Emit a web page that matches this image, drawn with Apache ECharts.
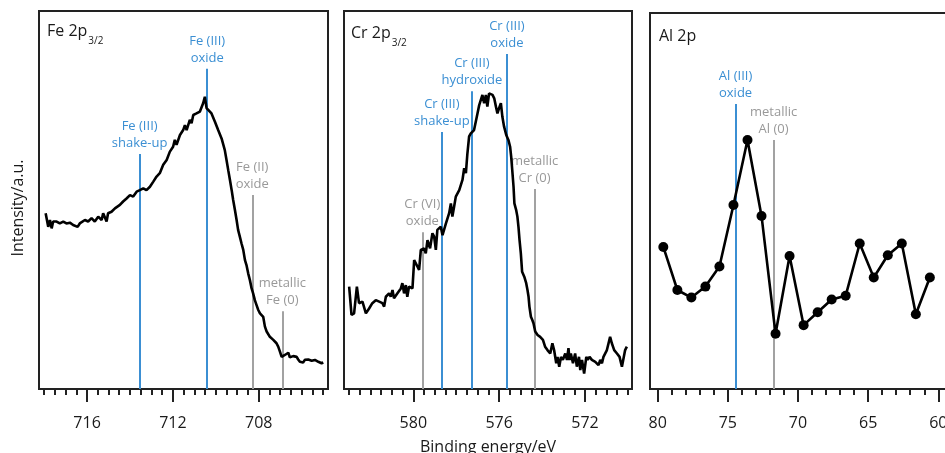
<!DOCTYPE html>
<html>
<head>
<meta charset="utf-8">
<script src="https://cdn.jsdelivr.net/npm/echarts@6/dist/echarts.min.js"></script>
<style>
  html, body { margin: 0; padding: 0; background: #fff; }
  #chart { width: 945px; height: 453px; }
</style>
</head>
<body>
<div id="chart"></div>
<script>
// binding energy (eV) / intensity (a.u.)
const feSpectrum = [
  [717.93,46.5],[717.81,42.9],[717.73,44.7],[717.65,42.5],[717.58,44.3],[717.50,43.8],[717.42,44.3],[717.27,43.8],
  [717.11,44.3],[716.96,43.8],[716.80,44.0],[716.65,43.4],[716.44,42.9],[716.34,43.8],[716.10,44.7],[715.95,44.3],
  [715.79,45.2],[715.64,44.3],[715.48,45.6],[715.32,44.7],[715.25,46.5],[715.09,44.3],[715.02,46.5],[714.86,46.9],
  [714.70,47.8],[714.47,48.7],[714.32,49.6],[714.16,50.4],[714.00,51.3],[713.85,50.9],[713.69,52.2],[713.54,52.6],
  [713.38,53.1],[713.23,52.6],[713.07,53.5],[712.92,54.8],[712.76,56.2],[712.61,57.1],[712.45,59.3],[712.29,60.6],
  [712.14,62.8],[711.99,64.1],[711.91,65.9],[711.83,64.6],[711.67,67.2],[711.52,68.5],[711.44,69.8],[711.36,68.5],
  [711.21,71.2],[711.13,70.3],[711.05,72.5],[710.90,72.9],[710.74,73.4],[710.59,75.6],[710.51,77.3],[710.43,74.3],
  [710.35,73.8],[710.20,72.9],[710.04,70.7],[709.89,68.5],[709.73,66.3],[709.58,63.2],[709.50,60.6],[709.42,57.9],
  [709.34,55.3],[709.26,52.6],[709.19,50.0],[709.11,47.4],[709.03,44.7],[708.96,42.1],[708.88,40.3],[708.80,38.5],
  [708.72,36.8],[708.64,34.1],[708.57,32.8],[708.49,30.6],[708.41,28.8],[708.33,26.6],[708.26,25.3],[708.18,23.5],
  [708.10,22.2],[708.02,20.9],[707.94,20.0],[707.87,19.6],[707.79,19.1],[707.71,16.5],[707.63,15.2],[707.48,13.8],
  [707.32,13.0],[707.17,12.1],[707.09,11.2],[707.01,9.9],[706.93,8.5],[706.78,9.0],[706.62,9.6],[706.55,8.4],
  [706.39,8.7],[706.23,8.5],[706.16,7.8],[706.08,7.2],[705.93,7.0],[705.85,7.7],[705.69,7.8],[705.53,7.5],
  [705.38,7.7],[705.22,7.2],[705.07,6.8],[704.99,7.0]
];

const crSpectrum = [
  [582.99,27.1],[582.88,19.6],[582.76,20.0],[582.63,27.1],[582.53,22.7],[582.37,23.1],[582.21,20.0],[582.06,21.3],
  [581.91,22.7],[581.75,23.5],[581.59,23.1],[581.44,22.7],[581.36,21.8],[581.28,24.4],[581.13,25.3],[581.05,24.4],
  [580.97,26.2],[580.90,24.0],[580.74,25.3],[580.58,26.6],[580.51,28.0],[580.43,25.3],[580.35,27.5],[580.28,24.4],
  [580.20,27.1],[580.04,26.6],[579.96,34.1],[579.81,32.4],[579.73,31.5],[579.65,36.8],[579.50,37.2],[579.42,35.9],
  [579.34,39.4],[579.22,37.2],[579.11,41.2],[579.03,40.3],[578.95,36.8],[578.88,42.1],[578.72,42.9],[578.64,40.7],
  [578.48,43.8],[578.33,46.5],[578.25,49.1],[578.18,45.6],[578.10,48.2],[578.02,50.9],[577.86,52.6],[577.71,55.3],
  [577.63,58.4],[577.55,57.1],[577.48,62.3],[577.40,66.8],[577.32,67.6],[577.24,68.1],[577.17,68.5],[577.01,72.9],
  [576.93,75.1],[576.85,75.6],[576.78,77.8],[576.70,75.6],[576.62,77.8],[576.55,74.7],[576.47,78.2],[576.31,77.8],
  [576.23,76.9],[576.15,74.7],[576.08,72.9],[575.98,74.7],[575.92,75.6],[575.85,72.0],[575.77,69.4],[575.67,67.2],
  [575.57,65.9],[575.49,64.1],[575.44,61.5],[575.39,57.9],[575.33,53.5],[575.29,49.1],[575.21,47.4],[575.15,45.6],
  [575.10,42.9],[575.05,39.4],[574.99,35.9],[574.93,31.0],[574.83,29.7],[574.74,28.0],[574.68,26.2],[574.63,24.4],
  [574.59,21.8],[574.52,19.1],[574.46,18.3],[574.40,17.4],[574.32,15.2],[574.21,14.3],[574.09,13.8],[573.96,13.0],
  [573.86,11.2],[573.75,10.3],[573.62,9.4],[573.52,12.1],[573.44,10.3],[573.34,6.8],[573.28,8.5],[573.20,5.9],
  [573.12,8.5],[573.03,7.7],[572.92,9.4],[572.84,7.7],[572.77,10.8],[572.72,7.7],[572.66,9.4],[572.56,6.8],
  [572.46,9.4],[572.38,5.9],[572.28,8.5],[572.22,5.0],[572.14,7.7],[572.04,4.1],[571.94,8.5],[571.88,7.7],
  [571.79,8.5],[571.68,7.7],[571.60,8.1],[571.52,7.2],[571.45,7.7],[571.37,6.3],[571.29,7.7],[571.21,6.8],
  [571.14,8.5],[570.98,10.3],[570.83,13.8],[570.75,12.1],[570.64,10.3],[570.51,9.4],[570.39,8.5],[570.28,5.9],
  [570.20,5.9],[570.13,10.3],[570.05,11.2]
];

const alSpectrum = [
  [79.6,37.6],[78.6,26.2],[77.6,24.2],[76.6,27.1],[75.6,32.4],[74.6,48.7],[73.6,65.9],[72.6,45.8],
  [71.6,14.6],[70.6,35.2],[69.6,16.9],[68.6,20.3],[67.6,23.7],[66.6,24.7],[65.6,38.5],[64.6,29.5],
  [63.6,35.4],[62.6,38.5],[61.6,19.8],[60.6,29.5]
];

// reference peak positions: label, energy, marker height, blue = oxidised species
const feRefs = [
  { name: 'Fe (III)\nshake-up', eV: 713.55, top: 62.2, blue: true },
  { name: 'Fe (III)\noxide', eV: 710.4, top: 84.7, blue: true },
  { name: 'Fe (II)\noxide', eV: 708.3, top: 51.3, blue: false },
  { name: 'metallic\nFe (0)', eV: 706.9, top: 20.6, blue: false }
];
const crRefs = [
  { name: 'Cr (VI)\noxide', eV: 579.58, top: 41.5, blue: false },
  { name: 'Cr (III)\nshake-up', eV: 578.67, top: 68.0, blue: true },
  { name: 'Cr (III)\nhydroxide', eV: 577.27, top: 78.8, blue: true },
  { name: 'Cr (III)\noxide', eV: 575.64, top: 88.6, blue: true },
  { name: 'metallic\nCr (0)', eV: 574.35, top: 52.9, blue: false }
];
const alRefs = [
  { name: 'Al (III)\noxide', eV: 74.45, top: 75.4, blue: true },
  { name: 'metallic\nAl (0)', eV: 71.74, top: 65.9, blue: false }
];

const feTickLabels = [716, 712, 708];
const crTickLabels = [580, 576, 572];
const alTickLabels = [80, 75, 70, 65, 60];

const FONT = '"Open Sans", "Noto Sans", sans-serif';
const INK = '#1a1a1a';
const BLUE = '#3b8fd3';
const GREY = '#a2a2a2';

const steps = (from, to, step) => {
  const out = [];
  for (let v = from; v <= to + 1e-9; v += step) out.push(+v.toFixed(3));
  return out;
};

const panels = [
  { title: 'Fe 2p', sub: '3/2', data: feSpectrum, refs: feRefs, min: 704.77, max: 718.24,
    major: feTickLabels, minor: steps(705, 718, 0.5), yMax: 100, symbols: false,
    grid: { left: 39, top: 11, width: 289, height: 378 }, titlePos: [47, 23] },
  { title: 'Cr 2p', sub: '3/2', data: crSpectrum, refs: crRefs, min: 569.81, max: 583.23,
    major: crTickLabels, minor: steps(570, 583, 0.5), yMax: 100, symbols: false,
    grid: { left: 344, top: 11, width: 288, height: 378 }, titlePos: [351, 25] },
  { title: 'Al 2p', sub: '', data: alSpectrum, refs: alRefs, min: 59.45, max: 80.55,
    major: alTickLabels, minor: steps(60, 80, 1), yMax: 99.5, symbols: true,
    grid: { left: 650, top: 13, width: 296, height: 376 }, titlePos: [659, 28] }
];

const grids = [], xAxes = [], yAxes = [], series = [], graphics = [];

panels.forEach((p, i) => {
  grids.push(Object.assign({
    show: true, borderColor: '#222', borderWidth: 2, backgroundColor: 'transparent',
    containLabel: false, outerBoundsMode: 'none'
  }, p.grid));

  // labelled major ticks
  xAxes.push({
    type: 'value', gridIndex: i, inverse: true, min: p.min, max: p.max, position: 'bottom',
    axisLine: { show: false },
    axisTick: { show: true, customValues: p.major, length: 13, lineStyle: { color: '#222', width: 2 } },
    axisLabel: { show: true, customValues: p.major, margin: 26, fontSize: 16, color: INK, fontFamily: FONT },
    splitLine: { show: false },
    name: i === 1 ? 'Binding energy/eV' : '',
    nameLocation: 'middle', nameGap: 50,
    nameTextStyle: { fontSize: 16, color: INK, fontFamily: FONT }
  });
  // minor ticks
  xAxes.push({
    type: 'value', gridIndex: i, inverse: true, min: p.min, max: p.max, position: 'bottom',
    axisLine: { show: false },
    axisTick: { show: true, customValues: p.minor, length: 6, lineStyle: { color: '#222', width: 2 } },
    axisLabel: { show: false },
    splitLine: { show: false }
  });

  yAxes.push({
    type: 'value', gridIndex: i, min: 0, max: p.yMax,
    axisLine: { show: false }, axisTick: { show: false }, axisLabel: { show: false }, splitLine: { show: false }
  });

  series.push({
    type: 'line',
    xAxisIndex: i * 2,
    yAxisIndex: i,
    data: p.data,
    showSymbol: p.symbols,
    symbol: 'circle',
    symbolSize: 10,
    itemStyle: { color: '#000' },
    lineStyle: { color: '#000', width: 2.6 },
    z: 3,
    markLine: {
      silent: true,
      symbol: 'none',
      z: 2,
      data: p.refs.map(r => [
        {
          coord: [r.eV, 0],
          lineStyle: { color: r.blue ? BLUE : GREY, width: 2, type: 'solid' },
          label: {
            show: true, position: 'end', distance: 2, formatter: r.name,
            color: r.blue ? BLUE : '#999', fontSize: 13, lineHeight: 17, fontFamily: FONT
          }
        },
        { coord: [r.eV, r.top] }
      ])
    }
  });

  graphics.push({
    type: 'text', x: p.titlePos[0], y: p.titlePos[1],
    style: {
      text: p.sub ? '{a|' + p.title + '}{b|' + p.sub + '}' : '{a|' + p.title + '}',
      rich: {
        a: { fontSize: 16, lineHeight: 20, verticalAlign: 'top', fill: INK, fontFamily: FONT },
        b: { fontSize: 10, lineHeight: 10, verticalAlign: 'top', padding: [13, 0, 0, 1], fill: INK, fontFamily: FONT }
      }
    }
  });
});

graphics.push({
  type: 'text', x: 18, y: 208, rotation: Math.PI / 2,
  style: { text: 'Intensity/a.u.', fontSize: 16, fill: INK, fontFamily: FONT, align: 'center', verticalAlign: 'middle' }
});

const chart = echarts.init(document.getElementById('chart'));
chart.setOption({
  animation: false,
  backgroundColor: '#fff',
  grid: grids,
  xAxis: xAxes,
  yAxis: yAxes,
  series: series,
  graphic: graphics
});
</script>
</body>
</html>
